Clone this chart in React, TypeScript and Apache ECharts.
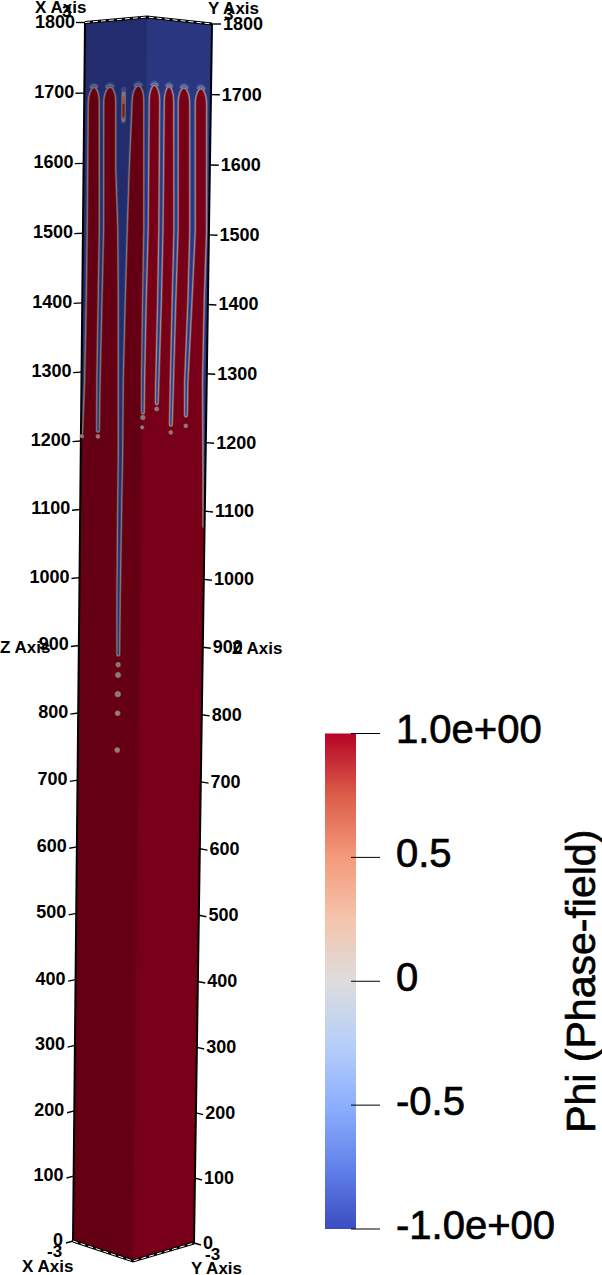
import React, { useEffect, useRef } from "react";
import * as echarts from "echarts";

// ---- data ----
// z: height of the column; p: position round the two visible faces (0..6 X face, 6..12 Y face)
const zTicks = [0, 100, 200, 300, 400, 500, 600, 700, 800, 900, 1000, 1100, 1200, 1300, 1400, 1500, 1600, 1700, 1800];
const phiTicks = [-1, -0.5, 0, 0.5, 1];
const phiLabels: Record<string, string> = { "-1": "-1.0e+00", "-0.5": "-0.5", "0": "0", "0.5": "0.5", "1": "1.0e+00" };
const phiTitle = "Phi (Phase-field)";
const colorStops = [
  [0, "#3b4cc0"], [0.125, "#6282ea"], [0.25, "#8db0fe"], [0.375, "#b7cff9"], [0.5, "#dddddd"],
  [0.625, "#f5c4ac"], [0.75, "#f49a7b"], [0.875, "#dc5d4a"], [1, "#b40426"],
];
// rows: [z, left edge p, right edge p] of the blue core of each channel
const channelEdgeLeft = [[1685, 0.27], [1505, 0.29], [1403, 0.27], [1288, 0.19], [1212, 0.03]];
const channel1 = [[1685, 1.58, 1.77], [1505, 1.71, 1.89], [1403, 1.67, 1.80], [1288, 1.62, 1.70], [1216, 1.65, 1.67]];
const channel2 = [[1685, 3.18, 4.53], [1590, 3.25, 4.32], [1505, 3.51, 4.19], [1403, 3.63, 4.07], [1290, 3.71, 3.96], [1190, 3.79, 3.98], [1090, 3.79, 3.93], [973, 3.81, 3.89], [894, 3.87, 3.89]];
const channel3 = [[1685, 5.90, 6.18], [1505, 6.04, 6.22], [1403, 6.00, 6.11], [1291, 5.98, 6.04], [1245, 6.02, 6.04]];
const channel4 = [[1685, 7.38, 7.57], [1505, 7.44, 7.60], [1403, 7.41, 7.53], [1288, 7.32, 7.38], [1258, 7.32, 7.34]];
const channel5 = [[1685, 8.68, 8.86], [1505, 8.85, 9.01], [1403, 8.77, 8.88], [1288, 8.69, 8.76], [1227, 8.67, 8.69]];
const channel6 = [[1685, 10.16, 10.44], [1505, 10.33, 10.61], [1403, 10.24, 10.39], [1288, 10.04, 10.12], [1240, 10.08, 10.10]];
const channelEdgeRight = [[1685, 11.73], [1505, 11.89], [1403, 11.77], [1288, 11.72], [1150, 11.9], [1078, 11.97]];
const fingerTips = [1709, 1708, 1707, 1708, 1708, 1708, 1709];
const droplets = [
  [0.1, 1207, 2.2], [1.66, 1208, 2.4], [6.03, 1238, 2.8], [5.98, 1224, 2.2], [7.33, 1250, 2.6], [8.68, 1216, 2.4], [10.09, 1225, 2.4],
  [3.88, 879, 2.8], [3.88, 864, 3.2], [3.88, 836, 3.4], [3.88, 808, 3.0], [3.88, 754, 3.0],
];
const rodLayers = [
  [3.82, 1702, 1657, 5.0, "#4a62aa", 0.75],
  [3.82, 1696, 1659, 4.0, "#9c958c", 0.9],
  [3.82, 1690, 1662, 3.2, "#b06c4c", 1],
  [3.82, 1680, 1664, 2.0, "#8a1c2a", 1],
];
const barSpan = [0, 31];
const barTickSpan = [26, 55];

// ---- view geometry of the column ----
const topL = [85, 22.5], topM = [147, 17], topR = [212, 24];
const botL = [73, 1241], botM = [133, 1261], botR = [194, 1243];
const ZMAX = 1800, PERSP = 0.046;
const lerp = (a: number[], b: number[], t: number) => [a[0] + (b[0] - a[0]) * t, a[1] + (b[1] - a[1]) * t];
const zFrac = (z: number) => { const f = 1 - z / ZMAX; return (f * (1 + PERSP)) / (1 + PERSP * f); };
function project(p: number, z: number) {
  const s = zFrac(z);
  const L = lerp(topL, botL, s), M = lerp(topM, botM, s), R = lerp(topR, botR, s);
  return p <= 6 ? lerp(L, M, p / 6) : lerp(M, R, (p - 6) / 6);
}

const CAP_BASE = 1685;
function capPoints(pa: number, pb: number, tip: number): number[][] {
  const pts: number[][] = [];
  for (let i = 1; i < 12; i++) {
    const phi = (Math.PI * i) / 12;
    const c = (pa + pb) / 2, a = (pb - pa) / 2;
    pts.push([c - a * Math.cos(phi), CAP_BASE + (tip - CAP_BASE) * Math.sin(phi)]);
  }
  return pts;
}
function allCaps(): number[][][] {
  const chans = [channel1, channel2, channel3, channel4, channel5, channel6];
  const caps: number[][][] = [];
  let prevRight = channelEdgeLeft[0][1];
  chans.forEach((ch, i) => {
    caps.push(capPoints(prevRight, ch[0][1], fingerTips[i]));
    prevRight = ch[0][2];
  });
  caps.push(capPoints(prevRight, channelEdgeRight[0][1], fingerTips[6]));
  return caps;
}
function blueBoundary(): number[][] {
  const pts: number[][] = [[0, ZMAX]];
  channelEdgeLeft.slice().reverse().forEach((r) => pts.push([r[1], r[0]]));
  const chans = [channel1, channel2, channel3, channel4, channel5, channel6];
  const caps = allCaps();
  chans.forEach((ch, i) => {
    pts.push(...caps[i]);
    ch.forEach((r) => pts.push([r[1], r[0]]));
    ch.slice().reverse().forEach((r) => pts.push([r[2], r[0]]));
  });
  pts.push(...caps[6]);
  channelEdgeRight.forEach((r) => pts.push([r[1], r[0]]));
  pts.push([12, channelEdgeRight[channelEdgeRight.length - 1][0]], [12, ZMAX], [6, ZMAX]);
  return pts;
}

const RED = "#770018", BLUE = "#2a3680";
const layers: [number, string][] = [
  [5.0, "#8a1c2a"], [4.2, "#a0443a"], [3.5, "#b06c4c"], [2.8, "#9c958c"], [2.0, "#7c8fb8"], [1.2, "#5068b0"], [0.5, "#36489a"],
];

export default function App() {
  const ref = useRef<HTMLDivElement>(null);
  useEffect(() => {
    document.body.style.margin = "0";
    document.body.style.background = "#fff";
    const chart = echarts.init(ref.current!, null, { renderer: "svg" });
    const font = "Liberation Sans";

    const renderColumn = (_: any, api: any) => {
      const P = (p: number, z: number) => api.coord(project(p, z));
      const face = [P(0, ZMAX), P(6, ZMAX), P(12, ZMAX), P(12, 0), P(6, 0), P(0, 0)];
      const clip = { type: "polygon", shape: { points: face } };
      const blue = blueBoundary().map((q) => P(q[0], q[1]));
      const children: any[] = [
        { type: "polygon", shape: { points: face }, style: { fill: RED } },
      ];
      layers.forEach(([w, c]) => {
        children.push({ type: "polygon", clipPath: clip, shape: { points: blue }, style: { fill: "none", stroke: c, lineWidth: w, lineJoin: "round" } });
      });
      children.push({ type: "polygon", clipPath: clip, shape: { points: blue }, style: { fill: BLUE, stroke: BLUE, lineWidth: 0.1 } });
      // pale halo above the finger tips
      allCaps().forEach((cap) => {
        const inner = cap.slice(3, -3);
        children.push({ type: "polyline", shape: { points: inner.map((q) => P(q[0], q[1] + 3)) }, style: { fill: "none", stroke: "#6a80b8", lineWidth: 3, opacity: 0.4, lineCap: "round" } });
        children.push({ type: "polyline", shape: { points: inner.map((q) => P(q[0], q[1] + 1.2)) }, style: { fill: "none", stroke: "#a0a4aa", lineWidth: 1.5, opacity: 0.55, lineCap: "round" } });
      });
      // small isolated finger in the wide channel
      rodLayers.forEach(([p, z1, z2, w, c, o]) => {
        children.push({ type: "polyline", shape: { points: [P(p as number, z1 as number), P(p as number, z2 as number)] }, style: { fill: "none", stroke: c, lineWidth: w, lineCap: "round", opacity: o } });
      });
      // shading of the X face
      children.push({
        type: "polygon",
        shape: { points: [P(0, ZMAX), P(6, ZMAX), P(6, 0), P(0, 0)] },
        style: { fill: "rgba(0,0,0,0.15)" },
      });
      // frame
      const frame = (pts: number[][], w: number) =>
        children.push({ type: "polyline", shape: { points: pts }, style: { fill: "none", stroke: "#000", lineWidth: w } });
      frame([P(0, 0), P(0, ZMAX)], 2);
      frame([P(12, 0), P(12, ZMAX)], 2);
      [[P(0, ZMAX), P(6, ZMAX), P(12, ZMAX)], [P(0, 0), P(6, 0), P(12, 0)]].forEach((e) => {
        frame(e, 3);
        children.push({ type: "polyline", shape: { points: e }, style: { fill: "none", stroke: "#fff", lineWidth: 1, lineDash: [5, 3] } });
      });
      return { type: "group", children };
    };

    const renderDroplet = (_: any, api: any) => {
      const [x, y] = api.coord(project(api.value(0), api.value(1)));
      const r = api.value(2);
      const ring = (rr: number, c: string) => ({ type: "circle", shape: { cx: x, cy: y, r: rr }, style: { fill: c } });
      return {
        type: "group",
        children: [ring(r, "#96483e"), ring(r * 0.76, "#a08070"), ring(r * 0.52, "#7a88a8"), ring(r * 0.3, "#5a70b0")],
      };
    };

    const renderTick = (_: any, api: any) => {
      const z = api.value(0);
      const s = zFrac(z);
      const children: any[] = [];
      const sides = [
        { p: 0, dir: -1, gap: 1 + 2 * s, anchor: "right", dy: -1 },
        { p: 12, dir: 1, gap: 2, anchor: "left", dy: 0 },
      ];
      sides.forEach((side) => {
        const [x, y] = api.coord(project(side.p, z));
        const len = 9 - 2 * s;
        const ex = x + side.dir * len, ey = y + 2 * s;
        children.push({ type: "line", shape: { x1: x, y1: y, x2: ex, y2: ey }, style: { stroke: "#000", lineWidth: 1.4 } });
        children.push({
          type: "text",
          x: ex + side.dir * side.gap,
          y: y + side.dy,
          style: { text: String(z), fill: "#000", font: `bold 18px "${font}"`, align: side.anchor, verticalAlign: "middle" },
        });
      });
      return { type: "group", children };
    };

    const renderBar = (_: any, api: any) => {
      const a = api.coord([barSpan[0], 1]), b = api.coord([barSpan[1], -1]);
      return {
        type: "rect",
        shape: { x: a[0], y: a[1], width: b[0] - a[0], height: b[1] - a[1] },
        style: {
          fill: new echarts.graphic.LinearGradient(0, 1, 0, 0, colorStops.map((c) => ({ offset: c[0] as number, color: c[1] as string }))),
        },
      };
    };

    const renderBarTick = (_: any, api: any) => {
      const v = api.value(0);
      const a = api.coord([barTickSpan[0], v]), b = api.coord([barTickSpan[1], v]);
      return { type: "line", shape: { x1: a[0], y1: a[1], x2: b[0], y2: b[1] }, style: { stroke: "#000", lineWidth: 1 } };
    };

    const title = (text: string, x: number, y: number) => ({
      type: "text", x, y, z: 20,
      style: { text, fill: "#000", font: `bold 17px "${font}"`, verticalAlign: "middle" },
    });

    chart.setOption({
      animation: false,
      backgroundColor: "#fff",
      grid: [
        { left: 0, right: 0, top: 0, bottom: 0, outerBoundsMode: "none" },
        { left: 325, width: 26, top: 733.5, height: 495.5, outerBoundsMode: "none" },
      ],
      xAxis: [
        { type: "value", min: 0, max: 602, show: false, gridIndex: 0 },
        { type: "value", min: 0, max: 26, show: false, gridIndex: 1 },
      ],
      yAxis: [
        { type: "value", min: 0, max: 1275, inverse: true, show: false, gridIndex: 0 },
        {
          type: "value", min: -1, max: 1, interval: 0.5, gridIndex: 1, position: "right", z: 10,
          splitLine: { show: false },
          axisLine: { show: false },
          axisTick: { show: false },
          axisLabel: {
            show: true, margin: 45, color: "#000", fontSize: 40, fontFamily: font,
            verticalAlign: "bottom", lineHeight: 9,
            textBorderColor: "#000", textBorderWidth: 0.7,
            customValues: phiTicks,
            formatter: (v: number) => phiLabels[String(v)],
          },
          name: phiTitle, nameLocation: "middle", nameRotate: 90, nameGap: 209, nameMoveOverlap: false,
          nameTextStyle: { color: "#000", fontSize: 41, fontFamily: font, textBorderColor: "#000", textBorderWidth: 0.7 },
        },
      ],
      series: [
        { type: "custom", name: "column", xAxisIndex: 0, yAxisIndex: 0, clip: false, data: [[0]], renderItem: renderColumn, z: 2 },
        { type: "custom", name: "droplets", xAxisIndex: 0, yAxisIndex: 0, clip: false, data: droplets, renderItem: renderDroplet, z: 3 },
        { type: "custom", name: "ticks", xAxisIndex: 0, yAxisIndex: 0, clip: false, data: zTicks.map((z) => [z]), renderItem: renderTick, z: 4 },
        { type: "custom", name: "colorbar", xAxisIndex: 1, yAxisIndex: 1, clip: false, data: [[0]], renderItem: renderBar, z: 2 },
        { type: "custom", name: "colorbarTicks", xAxisIndex: 1, yAxisIndex: 1, clip: false, data: phiTicks.map((v) => [v]), encode: { x: -1, y: 0 }, renderItem: renderBarTick, z: 3 },
      ],
      graphic: [
        title("X Axis", 35, 7),
        title("3", 62, 11),
        title("Y Axis", 208, 8),
        title("3", 224, 14),
        title("Z Axis", 0, 647),
        title("Z Axis", 232, 648),
        title("-3", 47, 1251),
        title("X Axis", 22, 1266),
        title("-3", 205, 1254),
        title("Y Axis", 191, 1268),
      ],
    });
    return () => chart.dispose();
  }, []);
  return <div ref={ref} style={{ position: "absolute", left: 0, top: 0, width: 602, height: 1275 }} />;
}
